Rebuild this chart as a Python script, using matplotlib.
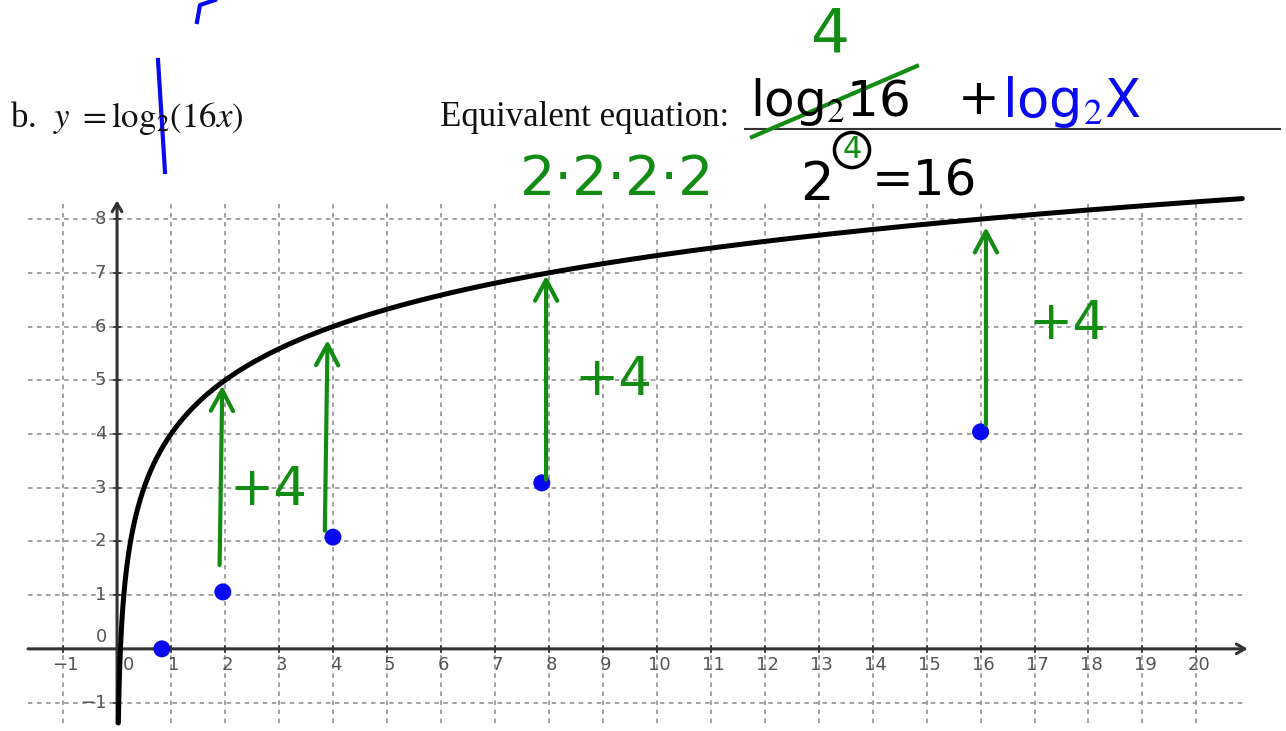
import numpy as np
import matplotlib
matplotlib.use("Agg")
import matplotlib.pyplot as plt

# ---- data ----
x_ticks = [-1, 0, 1, 2, 3, 4, 5, 6, 7, 8, 9, 10, 11, 12, 13, 14, 15, 16, 17, 18, 19, 20]
y_ticks = [-1, 0, 1, 2, 3, 4, 5, 6, 7, 8]
curve_base = 16          # y = log2(16 x)
dot_x = [0.83, 1.96, 4.0, 7.87, 16.0]
dot_y = [0.0, 1.06, 2.08, 3.09, 4.04]
arrow_x = [1.95, 3.9, 7.95, 16.1]
arrow_y0 = [1.56, 2.2, 3.15, 4.17]
arrow_y1 = [4.9, 5.75, 6.95, 7.85]
arrow_x0 = [1.9, 3.85, 7.95, 16.1]
plus_labels = ["+4", "+4", "+4"]
plus_x = [2.8, 9.2, 17.6]
plus_y = [2.95, 5.0, 6.05]

W, H = 1286, 731
GREEN = "#128c12"
BLUE = "#0a0af0"
GRAY = "#555555"

plt.rcParams["mathtext.fontset"] = "stix"
fig = plt.figure(figsize=(W / 100, H / 100), dpi=100)
fig.patch.set_facecolor("white")

# axes positioned so that grid region matches the reference
xmin, xmax = -1.65, 20.9
ymin, ymax = -1.38, 8.3
left_px, right_px = 28, 1245
top_px, bot_px = 203, 723
ax = fig.add_axes([left_px / W, 1 - bot_px / H, (right_px - left_px) / W, (bot_px - top_px) / H])
ax.set_xlim(xmin, xmax)
ax.set_ylim(ymin, ymax)
ax.axis("off")

# dashed grid
for xv in x_ticks:
    if xv == 0:
        continue
    ax.plot([xv, xv], [ymin, ymax], ls=(0, (2.5, 2.5)), color="#9a9a9a", lw=1.3, zorder=1)
for yv in y_ticks:
    if yv == 0:
        continue
    ax.plot([xmin, xmax], [yv, yv], ls=(0, (2.5, 2.5)), color="#9a9a9a", lw=1.3, zorder=1)

# axes lines with arrows
ax.annotate("", xy=(xmax + 0.05, 0), xytext=(xmin, 0), annotation_clip=False,
            arrowprops=dict(arrowstyle="->,head_length=0.6,head_width=0.35", color="#333333", lw=2.2,
                            shrinkA=0, shrinkB=0),
            zorder=2)
ax.annotate("", xy=(0, ymax + 0.05), xytext=(0, ymin), annotation_clip=False,
            arrowprops=dict(arrowstyle="->,head_length=0.6,head_width=0.35", color="#333333", lw=2.2,
                            shrinkA=0, shrinkB=0),
            zorder=2)

# tick labels
for xv in x_ticks:
    if xv == 0:
        ax.text(0.22, -0.13, "0", ha="center", va="top", fontsize=13, color=GRAY, family="DejaVu Sans")
        continue
    lab = "\u22121" if xv < 0 else str(xv)
    ax.text(xv + 0.05, -0.13, lab, ha="center", va="top", fontsize=13, color=GRAY, family="DejaVu Sans")
    ax.plot([xv, xv], [-0.05, 0.05], color="#333333", lw=1.3, zorder=2)
for yv in y_ticks:
    if yv == 0:
        ax.text(-0.18, 0.05, "0", ha="right", va="bottom", fontsize=13, color=GRAY, family="DejaVu Sans")
        continue
    lab = "\u22121" if yv < 0 else str(yv)
    ax.text(-0.2, yv, lab, ha="right", va="center", fontsize=13, color=GRAY, family="DejaVu Sans")
    ax.plot([-0.06, 0.06], [yv, yv], color="#333333", lw=1.3, zorder=2)

# curve y = log2(16x)
xc = np.linspace(2 ** ymin / curve_base, 20.85, 2000)
yc = np.log2(curve_base * xc)
ax.plot(xc, yc, color="black", lw=3.6, solid_capstyle="round", zorder=4, clip_on=False)

# blue dots
ax.scatter(dot_x, dot_y, s=150, color=BLUE, zorder=5, edgecolors="none")

# green arrows
for xa0, xa, y0, y1 in zip(arrow_x0, arrow_x, arrow_y0, arrow_y1):
    ax.annotate("", xy=(xa, y1), xytext=(xa0, y0),
                arrowprops=dict(arrowstyle="->,head_length=1.5,head_width=0.8", color=GREEN, lw=3.0,
                                shrinkA=0, shrinkB=0),
                zorder=6)
for lab, px, py in zip(plus_labels, plus_x, plus_y):
    ax.text(px, py, lab, fontsize=38, color=GREEN, ha="center", va="center",
            family="DejaVu Sans", zorder=6)

# ---- header text ----
def ft(xp, yp, s, **kw):
    fig.text(xp / W, 1 - yp / H, s, **kw)

ft(10, 118, r"b.  $y\ =\mathrm{log}_2(16x)$", fontsize=25, family="Liberation Serif",
   va="center", ha="left", color="#111111")
ft(440, 118, "Equivalent equation:", fontsize=25, family="Liberation Serif",
   va="center", ha="left", color="#111111")
# answer line
fig.add_artist(plt.Line2D([745 / W, 1280 / W], [1 - 129 / H, 1 - 129 / H], color="#333333", lw=1.5))

# handwritten parts
ft(750, 102, r"log$_2$16", fontsize=36, color="black", va="center", ha="left", family="DejaVu Sans")
ft(958, 100, "+", fontsize=36, color="black", va="center", ha="left", family="DejaVu Sans")
ft(1002, 102, r"log$_2$X", fontsize=38, color=BLUE, va="center", ha="left", family="DejaVu Sans")
ft(830, 35, "4", fontsize=44, color=GREEN, va="center", ha="center", family="DejaVu Sans")
fig.add_artist(plt.Line2D([752 / W, 917 / W], [1 - 137 / H, 1 - 66 / H], color=GREEN, lw=3.0))
ft(800, 185, "2", fontsize=38, color="black", va="center", ha="left", family="DejaVu Sans")
ft(852, 150, "4", fontsize=22, color=GREEN, va="center", ha="center", family="DejaVu Sans",
   bbox=dict(boxstyle="circle,pad=0.1", fc="none", ec="black", lw=2.5))
ft(872, 182, "=16", fontsize=36, color="black", va="center", ha="left", family="DejaVu Sans")
ft(520, 180, "2\u00b72\u00b72\u00b72", fontsize=40, color=GREEN, va="center", ha="left",
   family="DejaVu Sans")

# blue marks
fig.add_artist(plt.Line2D([158 / W, 165 / W], [1 - 60 / H, 1 - 172 / H], color=BLUE, lw=3.0))
fig.add_artist(plt.Line2D([197 / W, 200 / W, 215 / W], [1 - 22 / H, 1 - 5 / H, 1 - 0 / H],
                          color=BLUE, lw=3.0))

fig.savefig("out.png", dpi=100, facecolor="white")
